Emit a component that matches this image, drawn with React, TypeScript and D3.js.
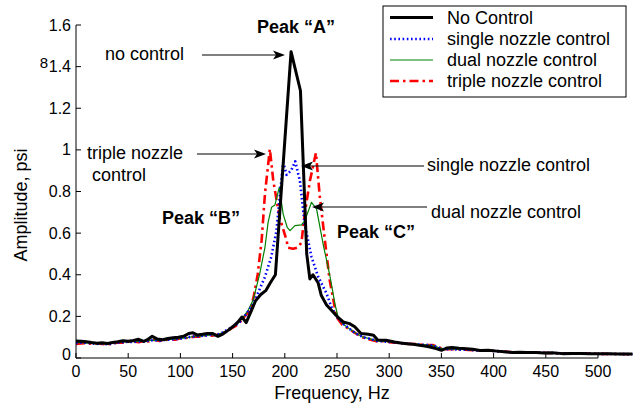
import React from "react";
import * as d3 from "d3";

// ---------- DATA ----------
const noControlFreq = [0,5,10,15,20,25,30,35,40,45,50,55,60,65,69,73,78,83,88,93,98,103,108,112,116,121,126,131,136,141,146,150,155,159,163,168,172,177,182,186,191,206,215,221,224,227,232,235,240,246,251,256,262,267,273,280,285,289,297,305,311,317,323,329,334,339,345,350,355,360,367,374,380,387,395,403,410,418,425,432,441,448,456,466,475,484,492,500,510,520,533];
const noControlAmp = [0.082,0.081,0.078,0.074,0.071,0.073,0.070,0.074,0.078,0.083,0.080,0.084,0.090,0.080,0.090,0.104,0.091,0.088,0.094,0.097,0.100,0.104,0.118,0.121,0.111,0.114,0.118,0.118,0.104,0.116,0.134,0.150,0.172,0.197,0.170,0.228,0.275,0.305,0.325,0.360,0.400,1.472,1.284,0.500,0.380,0.400,0.360,0.300,0.255,0.222,0.195,0.173,0.165,0.150,0.118,0.114,0.109,0.086,0.085,0.077,0.072,0.069,0.066,0.061,0.058,0.053,0.045,0.037,0.048,0.050,0.047,0.045,0.042,0.036,0.037,0.033,0.030,0.027,0.028,0.027,0.026,0.024,0.025,0.021,0.022,0.022,0.021,0.020,0.020,0.019,0.019];

const singleFreq = [0,5,10,15,20,25,30,35,40,45,50,55,60,65,70,75,80,85,90,95,100,105,110,115,120,125,130,135,140,145,150,155,160,165,170,175,181,187,192,195,198.5,201.7,206,210,214.5,219,225.6,232,240,245,250,256,262,268,275,282,288,295,302,310,318,326,334,342,348,352,360,368,376,387,395,403,410,418,425,432,441,448,456,466,475,484,492,500,510,520,533];
const singleAmp = [0.072,0.074,0.073,0.070,0.068,0.069,0.066,0.070,0.074,0.076,0.078,0.077,0.080,0.079,0.084,0.086,0.083,0.087,0.088,0.091,0.093,0.097,0.102,0.104,0.106,0.108,0.112,0.110,0.122,0.135,0.150,0.165,0.190,0.225,0.260,0.320,0.390,0.485,0.610,0.770,0.940,0.880,0.900,0.945,0.850,0.645,0.485,0.390,0.310,0.240,0.197,0.165,0.140,0.118,0.100,0.092,0.082,0.080,0.076,0.072,0.069,0.065,0.063,0.060,0.048,0.042,0.042,0.040,0.040,0.035,0.036,0.033,0.030,0.027,0.027,0.026,0.026,0.025,0.024,0.022,0.022,0.021,0.021,0.020,0.019,0.019,0.018];

const dualFreq = [0,5,10,15,20,25,30,35,40,45,50,55,60,65,70,75,80,85,90,95,100,105,110,115,120,125,130,135,140,145,150,155,160,165,169.8,176,181,184,187.3,190.5,194.7,198.5,202.3,205,209.7,216,219.2,225.6,230.4,237,243,248,251,256,262,268,275,282,288,295,302,310,318,326,334,342,348,352,360,368,376,387,395,403,410,418,425,432,441,448,456,466,475,484,492,500,510,520,533];
const dualAmp = [0.075,0.074,0.072,0.071,0.069,0.070,0.067,0.071,0.075,0.077,0.079,0.078,0.081,0.078,0.085,0.086,0.084,0.086,0.089,0.090,0.094,0.096,0.101,0.105,0.105,0.109,0.111,0.111,0.121,0.133,0.148,0.167,0.195,0.230,0.280,0.405,0.532,0.652,0.724,0.735,0.820,0.690,0.628,0.612,0.636,0.640,0.660,0.748,0.716,0.540,0.400,0.260,0.197,0.162,0.140,0.120,0.100,0.092,0.083,0.080,0.077,0.073,0.069,0.066,0.063,0.060,0.049,0.043,0.043,0.041,0.040,0.036,0.036,0.034,0.030,0.028,0.028,0.026,0.026,0.024,0.025,0.022,0.022,0.021,0.021,0.020,0.019,0.019,0.018];

const tripleFreq = [0,5,10,15,20,25,30,35,40,45,50,55,60,65,70,75,80,85,90,95,100,105,110,115,120,125,130,135,140,145,150,155,160,166.6,170,174,177.8,181,185.7,189,195,201.7,203,208,212.8,216,219,224,229.8,233.6,238.4,243,249.6,255,262,268,275,282,288,295,302,310,318,326,334,342,348,352,360,368,376,387,395,403,410,418,425,432,441,448,456,466,475,484,492,500,510,520,533];
const tripleAmp = [0.068,0.070,0.071,0.068,0.070,0.067,0.066,0.069,0.074,0.073,0.078,0.080,0.076,0.082,0.080,0.088,0.082,0.086,0.090,0.088,0.095,0.096,0.100,0.103,0.102,0.110,0.107,0.112,0.118,0.130,0.146,0.160,0.190,0.229,0.290,0.400,0.565,0.790,1.004,0.850,0.676,0.565,0.530,0.525,0.532,0.556,0.690,0.850,0.985,0.772,0.565,0.373,0.197,0.160,0.138,0.118,0.098,0.088,0.080,0.081,0.075,0.073,0.068,0.067,0.062,0.062,0.050,0.043,0.042,0.041,0.039,0.036,0.036,0.033,0.031,0.027,0.028,0.026,0.026,0.025,0.023,0.022,0.023,0.021,0.021,0.020,0.019,0.019,0.018];

const seriesNames = ["No Control", "single nozzle control", "dual nozzle control", "triple nozzle control"];
const xTicks = [0, 50, 100, 150, 200, 250, 300, 350, 400, 450, 500];
const yTicks = [0, 0.2, 0.4, 0.6, 0.8, 1, 1.2, 1.4, 1.6];

// ---------- LAYOUT ----------
const W = 643, H = 408;
const FONT = "'Liberation Sans', Arial, Helvetica, sans-serif";

const x = d3.scaleLinear().domain([0, 500]).range([76, 598]);
const y = d3.scaleLinear().domain([0, 1.6]).range([358, 25]);

const styles = [
  { stroke: "#000000", width: 3, dash: undefined as string | undefined },
  { stroke: "#0000ff", width: 2.6, dash: "1.6 2.6" },
  { stroke: "#008000", width: 1.2, dash: undefined },
  { stroke: "#ff0000", width: 2.6, dash: "9 4 2.5 4" },
];

const seriesData = [
  noControlFreq.map((f, i) => [f, noControlAmp[i]] as [number, number]),
  singleFreq.map((f, i) => [f, singleAmp[i]] as [number, number]),
  dualFreq.map((f, i) => [f, dualAmp[i]] as [number, number]),
  tripleFreq.map((f, i) => [f, tripleAmp[i]] as [number, number]),
];

const line = d3.line<[number, number]>().x((d) => x(d[0])).y((d) => y(d[1]));

function Arrow({ x1, y1, x2, y2 }: { x1: number; y1: number; x2: number; y2: number }) {
  const ang = Math.atan2(y2 - y1, x2 - x1);
  const L = 12, Wd = 4.5, N = 9;
  const ux = Math.cos(ang), uy = Math.sin(ang);
  const px = -uy, py = ux;
  const bx = x2 - ux * L, by = y2 - uy * L;
  const nx = x2 - ux * N, ny = y2 - uy * N;
  const pts = [
    [x2, y2],
    [bx + px * Wd, by + py * Wd],
    [nx, ny],
    [bx - px * Wd, by - py * Wd],
  ];
  return (
    <g>
      <line x1={x1} y1={y1} x2={nx} y2={ny} stroke="#000" strokeWidth={1.2} />
      <polygon points={pts.map((p) => p.join(",")).join(" ")} fill="#000" />
    </g>
  );
}

export default function App() {
  const legendRows = [17.5, 39, 60, 81];
  return (
    <svg width={W} height={H} style={{ display: "block", position: "absolute", left: 0, top: 0 }} fontFamily={FONT}>
      <rect x={0} y={0} width={W} height={H} fill="#fff" />
      {/* series */}
      {[3, 2, 1, 0].map((k) => (
        <path
          key={k}
          d={line(seriesData[k]) || ""}
          fill="none"
          stroke={styles[k].stroke}
          strokeWidth={styles[k].width}
          strokeDasharray={styles[k].dash}
          strokeLinejoin="round"
        />
      ))}
      {/* axes */}
      <line x1={x(0)} y1={y(0)} x2={x(500)} y2={y(0)} stroke="#000" strokeWidth={1} />
      <line x1={x(0)} y1={y(0)} x2={x(0)} y2={y(1.6)} stroke="#000" strokeWidth={1} />
      {xTicks.map((t) => (
        <g key={"x" + t}>
          <line x1={x(t)} x2={x(t)} y1={y(0)} y2={y(0) - 5} stroke="#000" />
          <text x={x(t)} y={371} textAnchor="middle" dy="0.35em" fontSize={16}>{t}</text>
        </g>
      ))}
      {yTicks.map((t) => (
        <g key={"y" + t}>
          <line x1={x(0)} x2={x(0) + 5} y1={y(t)} y2={y(t)} stroke="#000" />
          <text x={71} y={y(t) + (t === 0 ? -4 : 0)} textAnchor="end" dy="0.35em" fontSize={16}>{String(t)}</text>
        </g>
      ))}
      <text x={44} y={63} textAnchor="middle" dy="0.35em" fontSize={15}>8</text>
      <text x={332} y={393} textAnchor="middle" dy="0.35em" fontSize={18}>Frequency, Hz</text>
      <text transform={`translate(21,205) rotate(-90)`} textAnchor="middle" dy="0.35em" fontSize={18}>Amplitude, psi</text>

      {/* annotations */}
      <text x={296} y={27} textAnchor="middle" dy="0.35em" fontSize={18} fontWeight="bold">Peak “A”</text>
      <text x={105} y={54} dy="0.35em" fontSize={18}>no control</text>
      <Arrow x1={202} y1={55} x2={285} y2={55} />
      <text x={87} y={153} dy="0.35em" fontSize={18}>triple nozzle</text>
      <text x={92} y={175} dy="0.35em" fontSize={18}>control</text>
      <Arrow x1={197} y1={154} x2={266} y2={154} />
      <text x={427} y={165} dy="0.35em" fontSize={18}>single nozzle control</text>
      <Arrow x1={424} y1={166} x2={301} y2={166} />
      <text x={431} y={212} dy="0.35em" fontSize={18}>dual nozzle control</text>
      <Arrow x1={427} y1={207} x2={312} y2={207} />
      <text x={162} y={218} dy="0.35em" fontSize={18} fontWeight="bold">Peak “B”</text>
      <text x={337} y={232} dy="0.35em" fontSize={18} fontWeight="bold">Peak “C”</text>

      {/* legend */}
      <rect x={383} y={6} width={243} height={91} fill="#fff" stroke="#000" strokeWidth={1} />
      {seriesNames.map((n, i) => (
        <g key={n}>
          <line
            x1={390}
            x2={433}
            y1={legendRows[i]}
            y2={legendRows[i]}
            stroke={styles[i].stroke}
            strokeWidth={styles[i].width}
            strokeDasharray={styles[i].dash}
          />
          <text x={447} y={legendRows[i]} dy="0.35em" fontSize={18}>{n}</text>
        </g>
      ))}
    </svg>
  );
}
